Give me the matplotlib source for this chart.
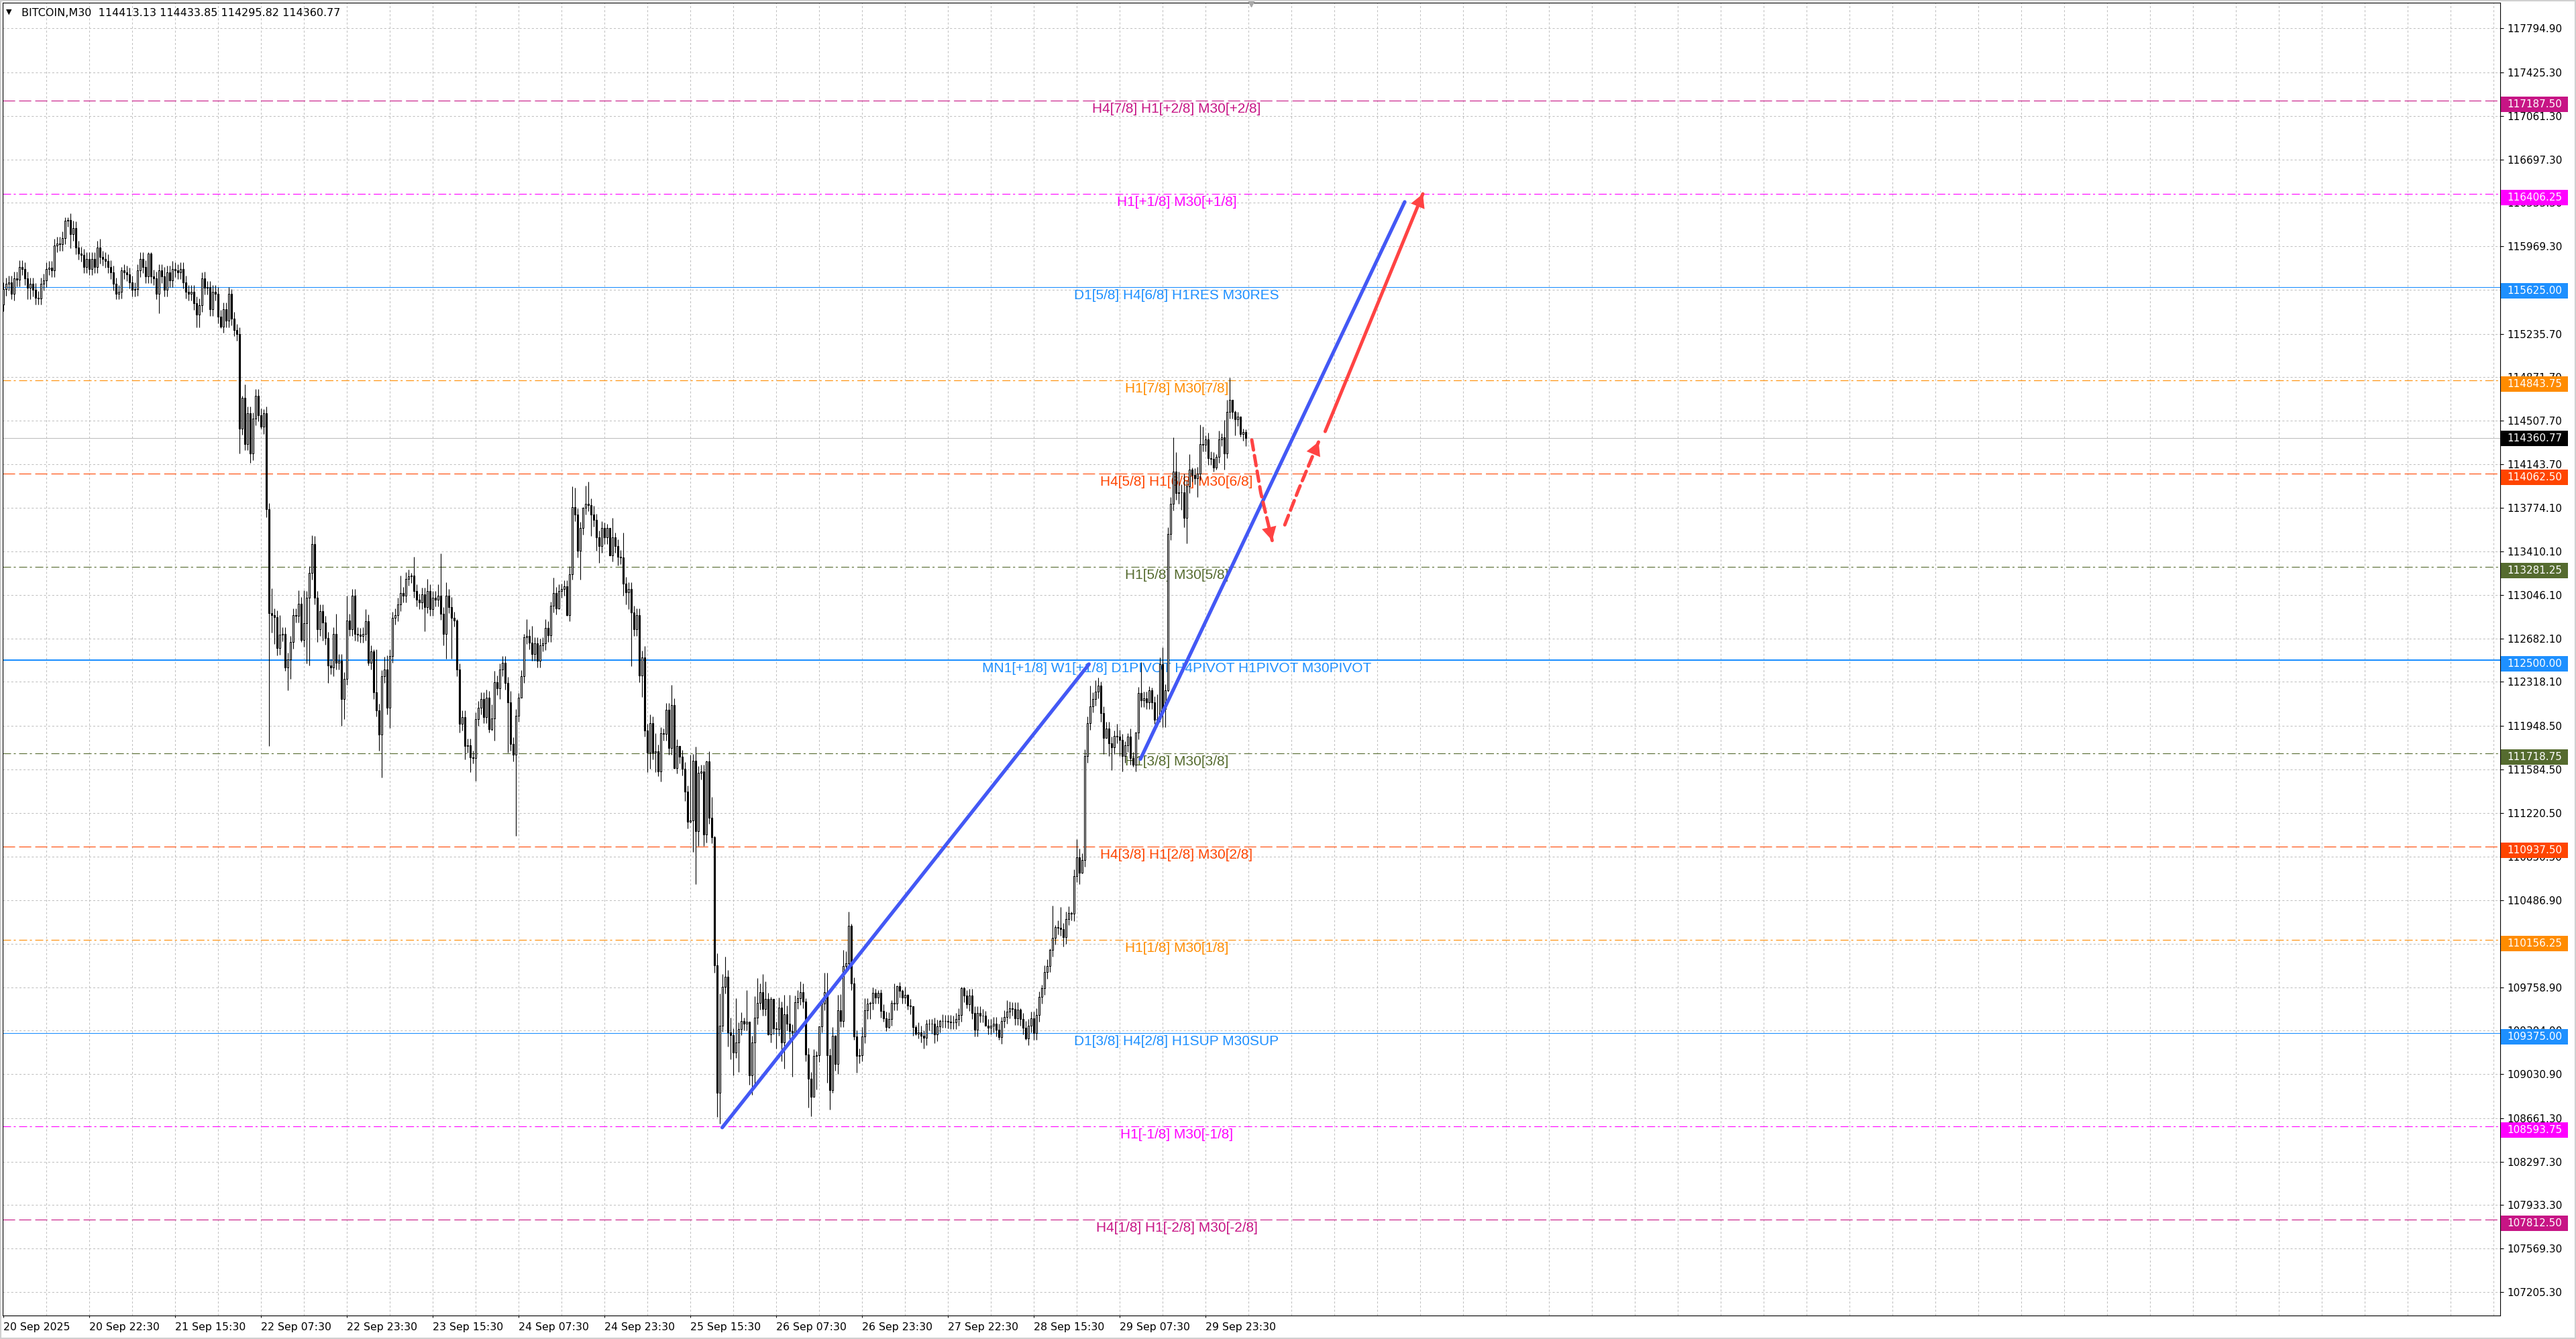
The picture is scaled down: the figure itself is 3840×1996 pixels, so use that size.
import matplotlib
matplotlib.use("Agg")
import matplotlib.pyplot as plt
import matplotlib.transforms as mtransforms
from matplotlib.patches import Rectangle

plt.rcParams['font.family'] = ['DejaVu Sans']
plt.rcParams['lines.scale_dashes'] = False

# ---- candles (M30), opens follow the previous close ----
first_open = 115480
closes = [
    115610, 115652, 115668, 115571, 115700, 115690, 115797, 115781, 115700, 115620,
    115652, 115604, 115539, 115530, 115652, 115684, 115781, 115790, 115765, 115975,
    115991, 115985, 116039, 116185, 116190, 116072, 116120, 115959, 115910, 115894,
    115797, 115862, 115781, 115862, 115797, 115959, 115878, 115862, 115846, 115797,
    115749, 115652, 115571, 115588, 115765, 115749, 115733, 115668, 115604, 115610,
    115765, 115862, 115797, 115717, 115910, 115717, 115700, 115571, 115765, 115717,
    115604, 115749, 115684, 115781, 115765, 115749, 115781, 115668, 115588, 115571,
    115588, 115491, 115394, 115475, 115700, 115620, 115625, 115442, 115588, 115571,
    115378, 115297, 115442, 115345, 115571, 115362, 115265, 115232, 114442, 114700,
    114313, 114571, 114232, 114522, 114716, 114555, 114458, 114571, 113764, 112893,
    112880, 112860, 112602, 112715, 112720, 112441, 112505, 112650, 112876, 112870,
    112973, 112667, 112812, 113022, 113230, 113474, 113023, 112759, 112910, 112816,
    112684, 112458, 112439, 112721, 112477, 112496, 112176, 112345, 112834, 112759,
    113041, 112721, 112715, 112703, 112721, 112827, 112477, 112571, 112232, 112081,
    111874, 112364, 112420, 112100, 112533, 112853, 112880, 112966, 113060, 113041,
    113181, 113203, 113211, 113079, 113004, 112985, 113053, 112947, 113079, 112928,
    113023, 113004, 113041, 112891, 112721, 113041, 112947, 112853, 112834, 112420,
    111968, 112025, 111780, 111788, 111686, 111678, 112006, 112100, 112176, 112025,
    112187, 111923, 112014, 112315, 112262, 112420, 112477, 112307, 112149, 111799,
    111705, 112036, 112187, 112364, 112691, 112703, 112646, 112552, 112639, 112496,
    112627, 112639, 112770, 112710, 112955, 113060, 112936, 113079, 113098, 113117,
    112880, 113218, 113783, 113719, 113418, 113606, 113776, 113813, 113802, 113719,
    113674, 113531, 113456, 113606, 113531, 113606, 113380, 113531, 113456, 113369,
    113361, 113143, 113068, 113098, 112900, 112760, 112880, 112369, 112525, 111912,
    111724, 111971, 111724, 111737, 111568, 111885, 111880, 112087, 111764, 112122,
    111595, 111783, 111692, 111589, 111396, 111146, 111159, 111657, 111065, 111557,
    111568, 111038, 111649, 111181, 111019, 109944, 108873, 109438, 109761, 109847,
    109379, 109357, 109209, 109298, 109411, 109478, 109451, 109470, 109021, 109298,
    109505, 109626, 109720, 109578, 109659, 109363, 109659, 109416, 109406, 109586,
    109298, 109532, 109451, 109390, 109379, 109632, 109667, 109720, 109640, 109196,
    108994, 108841, 109182, 109190, 109433, 109621, 109720, 109190, 108895, 109352,
    109115, 109567, 109478, 109936, 109962, 110272, 109788, 109344, 109182, 109190,
    109344, 109567, 109621, 109626, 109712, 109675, 109712, 109559, 109497, 109424,
    109492, 109626, 109620, 109766, 109728, 109675, 109694, 109605, 109600, 109424,
    109370, 109379, 109352, 109336, 109451, 109455, 109451, 109362, 109433, 109478,
    109473, 109473, 109470, 109462, 109465, 109491, 109527, 109749, 109688, 109616,
    109688, 109545, 109401, 109545, 109519, 109522, 109437, 109419, 109437, 109455,
    109401, 109340, 109473, 109509, 109555, 109580, 109577, 109498, 109570, 109491,
    109419, 109329, 109437, 109498, 109376, 109527, 109677, 109749, 109885, 109939,
    110072, 110172, 110262, 110258, 110244, 110179, 110333, 110380, 110375, 110692,
    110846, 110717, 110825, 111696, 111972, 112115, 112173, 112234, 112288, 112055,
    111850, 111929, 111804, 111768, 111865, 111860, 111829, 111696, 111786, 111857,
    111678, 111624, 111893, 112223, 112162, 112180, 112144, 112245, 112144, 112001,
    112008, 112467, 112090, 112245, 113560, 113812, 114080, 113901, 113905, 113908,
    113693, 113955, 114098, 114052, 114027, 114063, 114313, 114303, 114349, 114195,
    114188, 114116, 114206, 114349, 114367, 114231, 114582, 114683, 114582, 114518,
    114539, 114396, 114413.13, 114360.77,
]
# wick extremes that stand out on the chart; other bars carry a short wick
high_marks = {
    23: 116210, 24: 116210, 26: 116185, 36: 116030, 44: 115797, 54: 115920, 55: 115920,
    60: 115797, 63: 115846, 74: 115749, 85: 115610, 89: 114716, 90: 114813, 97: 114603,
    100: 113102, 103: 112876, 110: 113086, 112: 113086, 115: 113545,
    116: 113542, 124: 112891, 128: 113041, 135: 112928, 138: 112590, 139: 112590,
    142: 112526, 143: 112541, 148: 113211, 152: 113230, 153: 113369, 158: 113181,
    159: 113136, 161: 113079, 162: 113136, 163: 113392, 165: 113154, 167: 113030,
    169: 112842, 180: 112251, 182: 112127, 183: 112413, 186: 112533, 189: 112240,
    192: 112224, 194: 112721, 195: 112842, 197: 112789, 202: 112842, 204: 112992,
    205: 113192, 208: 113143, 211: 113286, 212: 113956, 213: 113945, 216: 113783,
    217: 113964, 218: 113994, 220: 113794, 223: 113663, 224: 113655, 225: 113644,
    226: 113606, 227: 113693, 228: 113569, 231: 113569, 234: 113150,
    239: 112617, 241: 112047, 243: 111885, 246: 111926, 249: 112294, 250: 112181,
    252: 111778, 256: 111710, 258: 111778, 262: 111657, 263: 111737, 264: 111353,
    265: 111025, 266: 110043, 267: 109707, 268: 109868, 269: 110016, 271: 109505,
    273: 109667, 275: 109551, 276: 109505, 277: 109734, 278: 109470, 280: 109685,
    281: 109836, 282: 109793, 283: 109868, 284: 109809, 286: 109680, 287: 109640,
    289: 109675, 290: 109640, 291: 109693, 292: 109605, 293: 109693, 296: 109734,
    297: 109809, 298: 109788, 299: 109667, 303: 109223, 304: 109317, 305: 109653,
    306: 109882, 307: 109882, 309: 109424, 310: 109357, 311: 109693, 312: 109702,
    313: 110070, 314: 110062, 315: 110393, 316: 110293, 320: 109424, 321: 109667,
    322: 109667, 323: 109640, 324: 109755, 325: 109747, 326: 109734, 327: 109739,
    331: 109648, 332: 109793, 333: 109774, 334: 109801, 335: 109739, 336: 109761,
    337: 109702, 339: 109486, 340: 109443, 341: 109465, 343: 109398, 344: 109486,
    345: 109492, 346: 109492, 348: 109486, 349: 109486,
    357: 109760, 358: 109760, 359: 109735, 366: 109562, 372: 109509, 374: 109652,
    375: 109641, 378: 109634, 379: 109580, 386: 109724, 387: 109778, 390: 110082,
    391: 110441, 392: 110280, 394: 110430, 396: 110394, 398: 110394, 400: 110997,
    401: 110918, 405: 112288, 407: 112331, 408: 112352, 409: 112323, 414: 111911,
    415: 111965, 418: 111821, 419: 111886, 420: 111929, 422: 111900, 424: 112485,
    427: 112280, 428: 112270, 430: 112216, 432: 112610, 436: 114367, 437: 114242,
    438: 114080, 439: 113973, 440: 114062, 442: 114224, 443: 114116, 446: 114475,
    447: 114457, 448: 114385, 452: 114224, 453: 114421, 454: 114403, 455: 114511,
    456: 114683, 457: 114869, 458: 114683, 459: 114590, 460: 114582, 461: 114539,
    462: 114439, 463: 114433.85,
}
low_marks = {
    3: 115523, 9: 115523, 10: 115523, 12: 115481, 13: 115481, 14: 115481, 25: 115952,
    42: 115523, 43: 115523, 57: 115523, 58: 115410, 72: 115287, 73: 115287, 77: 115384,
    81: 115281, 86: 115216, 88: 114232, 92: 114151, 96: 114442, 97: 114393, 98: 113700,
    99: 111779, 100: 112731, 101: 112634, 102: 112538, 105: 112408, 106: 112247,
    107: 112344, 111: 112650, 113: 112473,
    114: 112458, 117: 112654, 119: 112665, 121: 112307, 123: 112364, 126: 111950,
    127: 112006, 131: 112665, 136: 112458, 140: 111743, 141: 111517, 144: 111931,
    145: 112477, 157: 112740, 164: 112627, 165: 112514, 167: 112514, 170: 111893,
    172: 111667, 174: 111562, 175: 111637, 176: 111487, 181: 111893, 182: 111912,
    183: 111825, 185: 112176, 188: 111724, 191: 111027, 193: 112326, 197: 112496,
    199: 112439, 207: 112928, 210: 112872, 212: 113173, 215: 113173, 219: 113542,
    221: 113418, 222: 113316, 224: 113474, 226: 113392, 229: 113294, 231: 113041,
    232: 112966, 233: 112928,
    234: 112450, 237: 112316, 238: 112194, 240: 111562, 241: 111589, 243: 111562,
    244: 111530, 245: 111482, 250: 111589, 251: 111549, 254: 111320, 256: 111138,
    257: 110890, 258: 110621, 259: 110944, 261: 110944, 262: 110971, 265: 109882,
    266: 108672, 267: 108618, 270: 109263, 271: 109156, 272: 109021, 273: 109164,
    274: 109048, 278: 108940, 279: 108860, 280: 108914, 285: 109357, 286: 109298,
    288: 109244, 290: 109137, 291: 109075, 293: 109298, 294: 109008, 295: 109379,
    300: 108752, 301: 108680, 302: 108841, 303: 108900, 307: 108959, 308: 108733,
    309: 108873, 311: 109029, 317: 109317, 318: 109040, 319: 109121, 320: 109137,
    322: 109492, 323: 109492, 328: 109470, 329: 109390, 330: 109416, 337: 109572,
    338: 109532, 339: 109352, 340: 109357, 341: 109330, 342: 109298, 343: 109244,
    344: 109271, 346: 109371, 347: 109290,
    359: 109580, 366: 109437, 371: 109319, 381: 109319, 384: 109319, 395: 110100,
    399: 110315, 401: 110620, 402: 110710, 409: 111983, 410: 111714, 411: 111857,
    412: 111696, 413: 111578, 416: 111696, 417: 111570, 420: 111624, 421: 111606,
    425: 112108, 426: 112090, 429: 111965, 431: 111983, 432: 111936, 433: 111936,
    434: 112234, 438: 113812, 439: 113758, 440: 113614, 441: 113478, 445: 113865,
    449: 114134, 450: 114134, 451: 114080, 452: 114098, 455: 114098, 456: 114195,
    459: 114385, 461: 114374, 463: 114295.82,
}
typical_wick = 55

current_price = 114360.77
header = "BITCOIN,M30  114413.13 114433.85 114295.82 114360.77"

# ---- Murrey-math style levels ----
level_prices = [117187.50, 116406.25, 115625.00, 114843.75, 114062.50, 113281.25, 112500.00,
                111718.75, 110937.50, 110156.25, 109375.00, 108593.75, 107812.50]
level_names = ["H4[7/8] H1[+2/8] M30[+2/8]", "H1[+1/8] M30[+1/8]", "D1[5/8] H4[6/8] H1RES M30RES",
               "H1[7/8] M30[7/8]", "H4[5/8] H1[6/8] M30[6/8]", "H1[5/8] M30[5/8]",
               "MN1[+1/8] W1[+1/8] D1PIVOT H4PIVOT H1PIVOT M30PIVOT", "H1[3/8] M30[3/8]",
               "H4[3/8] H1[2/8] M30[2/8]", "H1[1/8] M30[1/8]", "D1[3/8] H4[2/8] H1SUP M30SUP",
               "H1[-1/8] M30[-1/8]", "H4[1/8] H1[-2/8] M30[-2/8]"]
level_colors = ['#C71585', '#FF00FF', '#1E90FF', '#FF8C00', '#FF4500', '#556B2F', '#1E90FF',
                '#556B2F', '#FF4500', '#FF8C00', '#1E90FF', '#FF00FF', '#C71585']
level_kinds = ['dash', 'dashdot', 'solid', 'dashdot', 'dash', 'dashdot', 'pivot',
               'dashdot', 'dash', 'dashdot', 'solid', 'dashdot', 'dash']

price_ticks = [117794.90, 117425.30, 117061.30, 116697.30, 116333.30, 115969.30, 115602.50,
               115235.70, 114871.70, 114507.70, 114143.70, 113774.10, 113410.10, 113046.10,
               112682.10, 112318.10, 111948.50, 111584.50, 111220.50, 110850.50, 110486.90,
               110122.90, 109758.90, 109394.90, 109030.90, 108661.30, 108297.30, 107933.30,
               107569.30, 107205.30]
time_labels = ["20 Sep 2025", "20 Sep 22:30", "21 Sep 15:30", "22 Sep 07:30", "22 Sep 23:30",
               "23 Sep 15:30", "24 Sep 07:30", "24 Sep 23:30", "25 Sep 15:30", "26 Sep 07:30",
               "26 Sep 23:30", "27 Sep 22:30", "28 Sep 15:30", "29 Sep 07:30", "29 Sep 23:30"]
label_every = 32

# ---- hand-drawn objects (bar index, price) ----
trend_1 = ([267.9, 404.6], [108583, 112467])
trend_2 = ([423.75, 522.25], [111671, 116341])
target_arrow = ([492.6, 529.0], [114417, 116408])
pullback = ([465.25, 468.6, 472.85], [114346, 113904, 113503])
bounce = ([477.55, 482.6, 490.15], [113634, 113925, 114330])

W, H = 3840, 1996
fig = plt.figure(figsize=(W / 100, H / 100), dpi=100)
ax = fig.add_axes([4 / W, 35 / H, 3723 / W, 1957 / H])
ax.set_xlim(-0.25, 930.5)
ax.set_ylim(107007.5, 118010.5)
ppx = (118010.5 - 107007.5) / 1957  # price per pixel

grid_style = dict(color='#C0C0C0', lw=0.75, ls=(0, (2.2, 2.2)), zorder=0)
for gx in range(16, 931, 16):
    ax.axvline(gx, **grid_style)
for gy in price_ticks:
    ax.axhline(gy, **grid_style)

styles = {'dash': dict(ls=(0, (13, 4.3)), lw=0.8),
          'dashdot': dict(ls=(0, (8.6, 2.9, 2.2, 3.6)), lw=0.8),
          'solid': dict(ls='-', lw=0.8),
          'pivot': dict(ls='-', lw=1.5)}
for p, name, c, k in zip(level_prices, level_names, level_colors, level_kinds):
    ax.axhline(p, color=c, zorder=1, **styles[k])
    ax.annotate(name, xy=(437.25, p), xytext=(0, -3), textcoords='offset pixels',
                ha='center', va='top', color=c, fontsize=15, family='Liberation Sans', zorder=2)

ax.axhline(current_price, color='#C0C0C0', lw=0.8, zorder=1)

# candles
opens = [first_open] + closes[:-1]
xs = list(range(len(closes)))
highs, lows, bottoms, heights, faces = [], [], [], [], []
for i, (o, c) in enumerate(zip(opens, closes)):
    top, bot = max(o, c), min(o, c)
    highs.append(max(high_marks.get(i, top + typical_wick), top))
    lows.append(min(low_marks.get(i, bot - typical_wick), bot))
    bottoms.append(bot)
    heights.append(max(top - bot, 3))
    faces.append('white' if c >= o else 'black')
ax.vlines(xs, lows, highs, color='black', lw=0.8, zorder=3)
ax.bar(xs, heights, bottom=bottoms, width=0.5, color=faces, edgecolor='black', lw=0.8, zorder=4)

# drawn lines and arrows
blue = '#4358F5'
red = '#FF4343'
for tx, ty in (trend_1, trend_2):
    ax.plot(tx, ty, color=blue, lw=3.8, solid_capstyle='round', zorder=6)
ax.plot(*target_arrow, color=red, lw=3.6, solid_capstyle='round', zorder=6)
for sx, sy in (pullback, bounce):
    ax.plot(sx, sy, color=red, lw=3.6, ls=(0, (11, 6)), dash_capstyle='round', zorder=6)
for ax_, ay_ in (target_arrow, pullback, bounce):
    ax.annotate('', xy=(ax_[-1], ay_[-1]), xytext=(ax_[-2], ay_[-2]),
                arrowprops=dict(arrowstyle='-|>,head_length=0.4,head_width=0.22',
                                mutation_scale=36, color=red, lw=0, shrinkA=0, shrinkB=0),
                zorder=7)

# axes cosmetics
for s in ax.spines.values():
    s.set_color('black')
    s.set_linewidth(0.8)
ax.yaxis.tick_right()
ax.set_yticks(price_ticks)
ax.set_yticklabels([f'{v:.2f}' for v in price_ticks])
ax.tick_params(axis='y', length=3.6, width=0.8, pad=3.6, labelsize=11, colors='black')
ax.set_xticks([k * label_every for k in range(len(time_labels))])
ax.set_xticklabels(time_labels)
ax.tick_params(axis='x', length=2.2, width=0.8, pad=5, labelsize=11.3)
for lbl in ax.get_xticklabels():
    lbl.set_ha('left')

# price tags on the right scale
tag = mtransforms.blended_transform_factory(fig.transFigure, ax.transData)
tags = [(p, c, 17) for p, c in zip(level_prices, level_colors)] + [(current_price, 'black', 11.5)]
for p, c, below in tags:
    ax.add_patch(Rectangle((3728 / W, p - below * ppx), 100 / W, 23 * ppx, transform=tag,
                           facecolor=c, edgecolor='none', clip_on=False, zorder=10))
    ax.text(3737 / W, p - (below - 11.5) * ppx, f'{p:.2f}', transform=tag, color='white',
            fontsize=11, va='center', ha='left', clip_on=False, zorder=11)

# chart shift marker and header
ax.plot([465], [118010.5], marker='v', ms=8, color='#A8A8A8', clip_on=False, zorder=8)
fig.text(9 / W, 1 - 18 / H, '\u25BC', fontsize=8, va='center', ha='left')
fig.text(32 / W, 1 - 19 / H, header, fontsize=11.5, va='center', ha='left')
fig.patches.append(Rectangle((0, 0), 1, 1, transform=fig.transFigure, fill=False,
                             edgecolor='#D0D0D0', lw=3))

fig.savefig('out.png', dpi=100, facecolor='white')
